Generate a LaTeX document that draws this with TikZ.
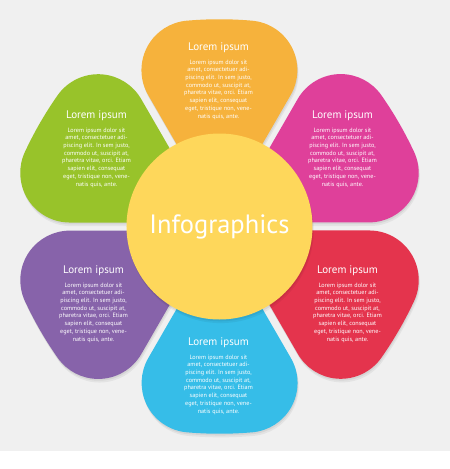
\documentclass[tikz,border=0pt]{standalone}
\usepackage{fontspec}
\setmainfont{PT Sans}
\usetikzlibrary{positioning}

\definecolor{bggray}{HTML}{F0F0F0}
\definecolor{hubyellow}{HTML}{FED75B}
\definecolor{petalorange}{HTML}{F6B23C}
\definecolor{petalpink}{HTML}{DF409A}
\definecolor{petalred}{HTML}{E4344D}
\definecolor{petalblue}{HTML}{36BDE8}
\definecolor{petalpurple}{HTML}{8763AA}
\definecolor{petalgreen}{HTML}{98C32A}

% one petal, pointing up, tip at the hub centre
\newcommand{\petalpath}{(0,8) -- (-71.4,131.6) arc[start angle=210, end angle=95, radius=49.6] arc[start angle=95, end angle=85, radius=375] arc[start angle=85, end angle=-30, radius=49.6] -- cycle}
\newcommand{\loremtext}{Lorem ipsum dolor sit\\amet, consectetuer adi-\\piscing elit. In sem justo,\\commodo ut, suscipit at,\\pharetra vitae, orci. Etiam\\sapien elit, consequat\\eget, tristique non, vene-\\natis quis, ante.}

\begin{document}
\begin{tikzpicture}[x=1pt, y=1pt,
	softshadow/.style={fill=black, opacity=0.06, shift={(0.6,-1.8)}},
	softershadow/.style={fill=black, opacity=0.05, shift={(1.2,-3.6)}},
	headline/.style={text=white, inner sep=0pt, font=\fontsize{11}{13}\selectfont},
	bodytext/.style={text=white, inner sep=0pt, align=center, font=\fontsize{6.2}{7.7}\selectfont}]
	\useasboundingbox (-219.5,-242.5) rectangle (230.5,226.5);
	\fill[white] (-219.5,-242.5) rectangle (230.5,226.5);
	\fill[bggray] (-219.5,-224.5) rectangle (230.5,226.5);
	
	% shadows
	\fill[softershadow, rotate=0] \petalpath;
	\fill[softershadow, rotate=-60] \petalpath;
	\fill[softershadow, rotate=-120] \petalpath;
	\fill[softershadow, rotate=180] \petalpath;
	\fill[softershadow, rotate=120] \petalpath;
	\fill[softershadow, rotate=60] \petalpath;
	\fill[softshadow, rotate=0] \petalpath;
	\fill[softshadow, rotate=-60] \petalpath;
	\fill[softshadow, rotate=-120] \petalpath;
	\fill[softshadow, rotate=180] \petalpath;
	\fill[softshadow, rotate=120] \petalpath;
	\fill[softshadow, rotate=60] \petalpath;
	
	% petals
	\fill[petalorange, rotate=0] \petalpath;
	\fill[petalpink, rotate=-60] \petalpath;
	\fill[petalred, rotate=-120] \petalpath;
	\fill[petalblue, rotate=180] \petalpath;
	\fill[petalpurple, rotate=120] \petalpath;
	\fill[petalgreen, rotate=60] \petalpath;
	
	% hub
	\fill[softershadow] (0,0) circle (93);
	\fill[softshadow] (0,0) circle (93);
	\node[circle, fill=hubyellow, minimum size=186pt, inner sep=0pt, text=white, font=\fontsize{26.5}{30}\selectfont] (hub) at (0,0) {Infographics};
	
	% texts
	\node[bodytext] (orangebody) at (-1,137) {\loremtext};
	\node[headline] (orangetitle) [above = 7pt of orangebody] {Lorem ipsum};
	\node[bodytext] (pinkbody) at (123,69) {\loremtext};
	\node[headline] (pinktitle) [above = 7pt of pinkbody] {Lorem ipsum};
	\node[bodytext] (redbody) at (128,-86) {\loremtext};
	\node[headline] (redtitle) [above = 7pt of redbody] {Lorem ipsum};
	\node[bodytext] (bluebody) at (-1,-158) {\loremtext};
	\node[headline] (bluetitle) [above = 7pt of bluebody] {Lorem ipsum};
	\node[bodytext] (purplebody) at (-126,-86) {\loremtext};
	\node[headline] (purpletitle) [above = 7pt of purplebody] {Lorem ipsum};
	\node[bodytext] (greenbody) at (-123,69) {\loremtext};
	\node[headline] (greentitle) [above = 7pt of greenbody] {Lorem ipsum};
\end{tikzpicture}
\end{document}
